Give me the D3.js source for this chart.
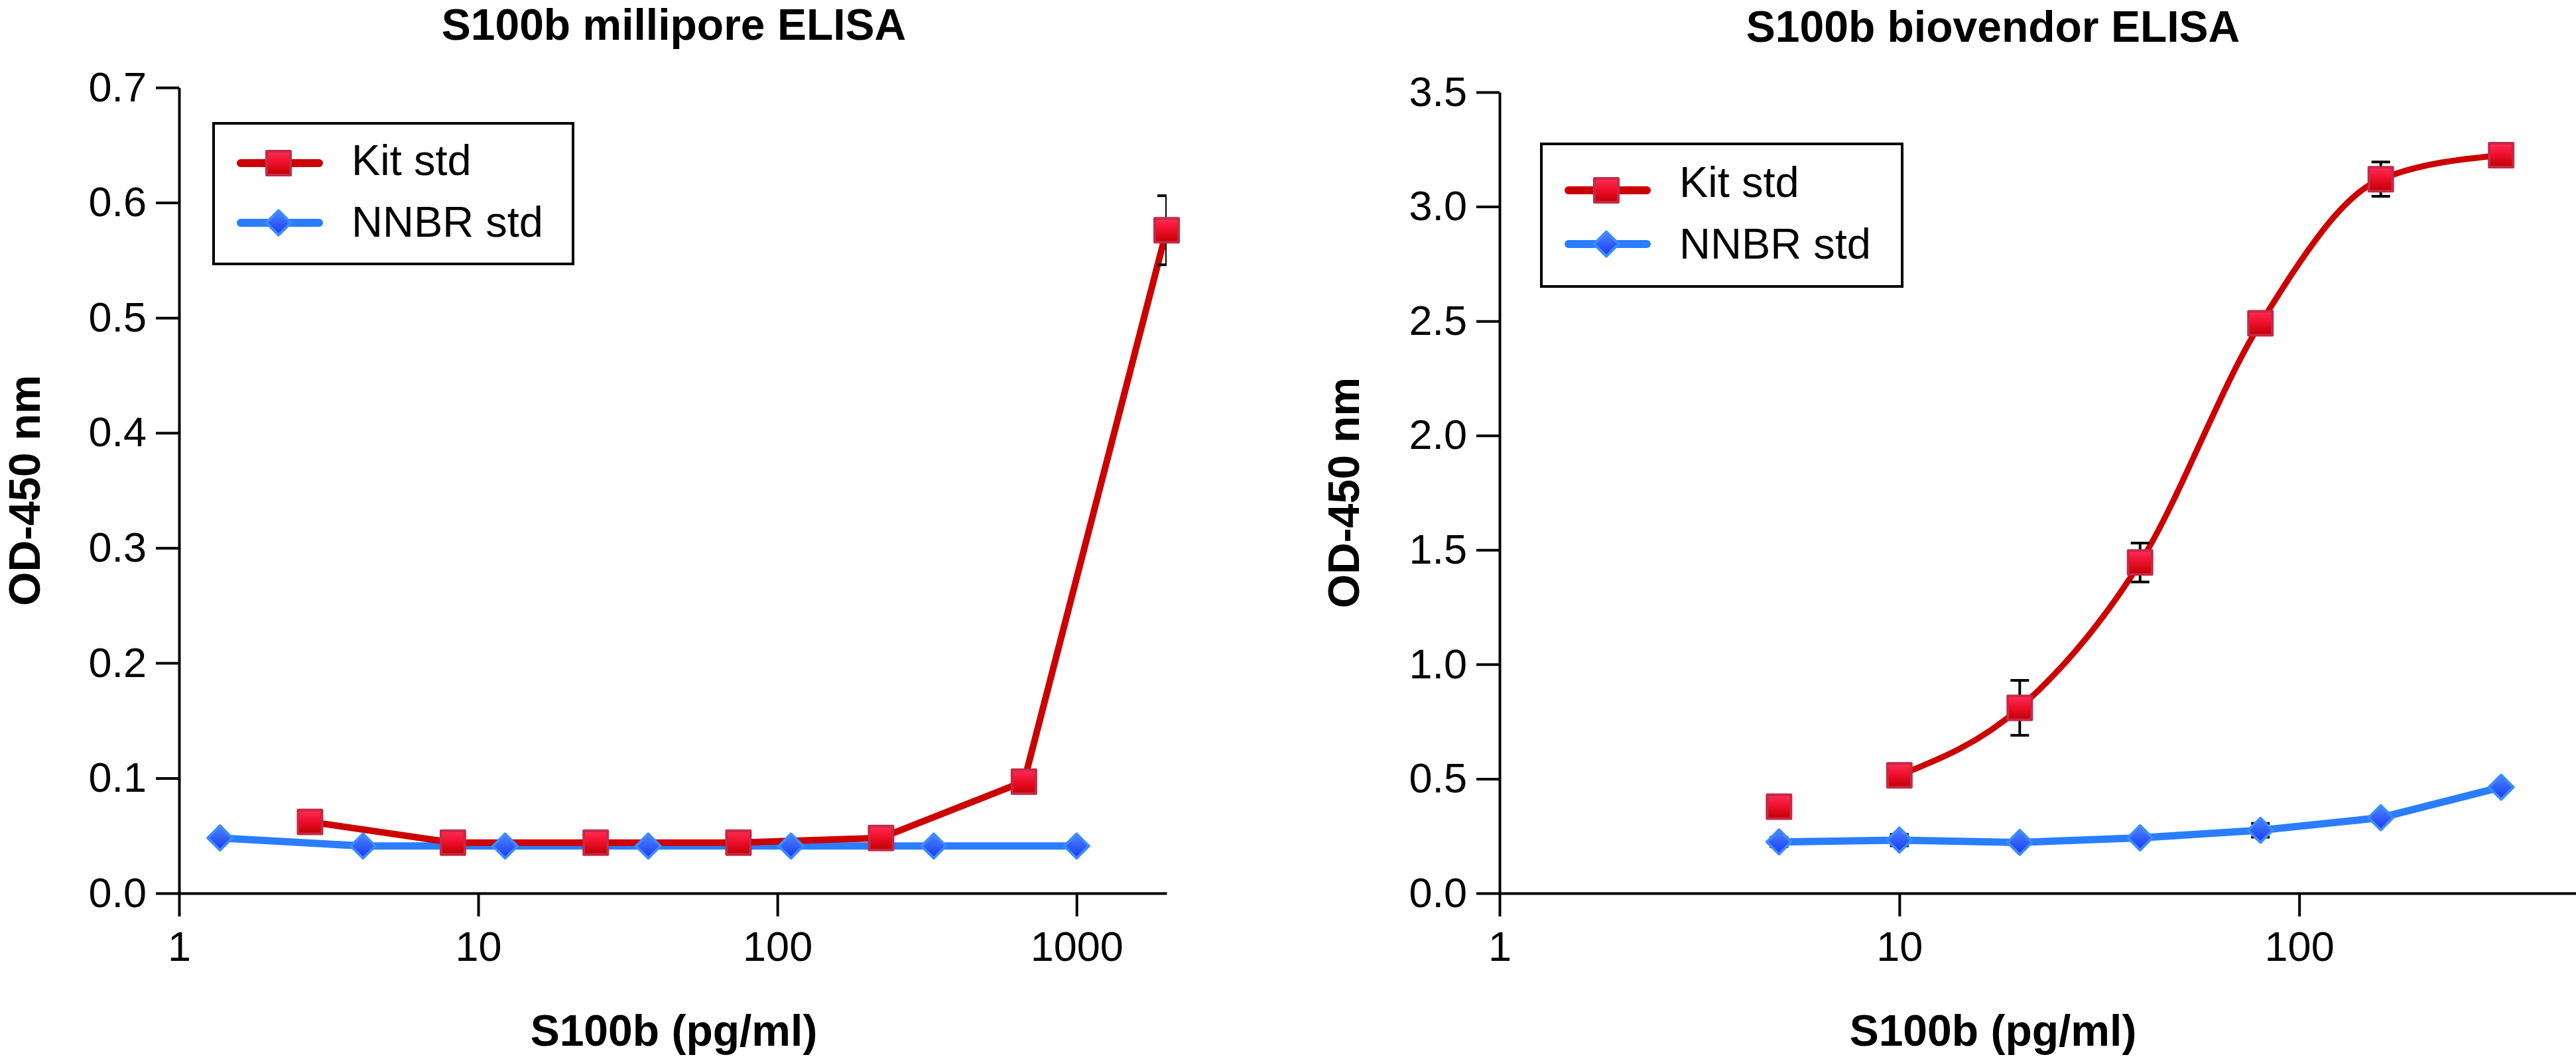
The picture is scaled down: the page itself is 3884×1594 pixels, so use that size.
<!DOCTYPE html>
<html>
<head>
<meta charset="utf-8">
<script src="https://cdn.jsdelivr.net/npm/d3@7"></script>
<style>
  body { margin: 0; background: #ffffff; }
  svg { display: block; }
  text { font-family: "Liberation Sans", Arial, Helvetica, sans-serif; fill: #000; }
</style>
</head>
<body>
<svg id="chart" width="3884" height="1594"></svg>
<script>
"use strict";

// ---- données ----
var milliporeKitX    = [2.74, 8.23, 24.7, 74.1, 222, 667, 2000];
var milliporeKitY    = [0.062, 0.044, 0.044, 0.044, 0.048, 0.097, 0.576];
var milliporeKitErr  = [0.003, 0.002, 0.002, 0.002, 0.003, 0.004, 0.030];
var milliporeNnbrX   = [1.37, 4.12, 12.3, 37.0, 111, 333, 1000];
var milliporeNnbrY   = [0.048, 0.041, 0.041, 0.041, 0.041, 0.041, 0.041];

var biovendorX       = [5, 10, 20, 40, 80, 160, 320];
var biovendorKitY    = [0.378, 0.515, 0.810, 1.445, 2.490, 3.120, 3.225];
var biovendorKitErr  = [0.020, 0.010, 0.120, 0.085, 0.045, 0.075, 0.010];
var biovendorNnbrY   = [0.224, 0.232, 0.222, 0.242, 0.275, 0.330, 0.463];
var biovendorNnbrErr = [0.020, 0.025, 0.010, 0.010, 0.030, 0.010, 0.010];

var titres      = ["S100b millipore ELISA", "S100b biovendor ELISA"];
var titreX      = "S100b (pg/ml)";
var titreY      = "OD-450 nm";
var legendes    = ["Kit std", "NNBR std"];
var ticksXGauche = [1, 10, 100, 1000];
var ticksXDroite = [1, 10, 100];
var ticksYGauche = [0, 0.1, 0.2, 0.3, 0.4, 0.5, 0.6, 0.7];
var ticksYDroite = [0, 0.5, 1.0, 1.5, 2.0, 2.5, 3.0, 3.5];

var rouge = "#cc0000";
var bleu  = "#2a7dff";

var svg = d3.select("#chart");

// dégradés des marqueurs
var defs = svg.append("defs");
var gradRouge = defs.append("linearGradient").attr("id", "gradRouge")
    .attr("x1", 0).attr("y1", 0).attr("x2", 0).attr("y2", 1);
gradRouge.append("stop").attr("offset", "0%").attr("stop-color", "#ff2d55");
gradRouge.append("stop").attr("offset", "45%").attr("stop-color", "#f0102e");
gradRouge.append("stop").attr("offset", "100%").attr("stop-color", "#c00000");
var gradBleu = defs.append("linearGradient").attr("id", "gradBleu")
    .attr("x1", 0).attr("y1", 0).attr("x2", 0).attr("y2", 1);
gradBleu.append("stop").attr("offset", "0%").attr("stop-color", "#4f86ff");
gradBleu.append("stop").attr("offset", "100%").attr("stop-color", "#1638f2");

// losange (symbole maison)
var symboleLosange = {
    draw: function(context, size) {
        var r = Math.sqrt(size) / 2;
        context.moveTo(0, -r);
        context.lineTo(r, 0);
        context.lineTo(0, r);
        context.lineTo(-r, 0);
        context.closePath();
    }
};
var carre   = d3.symbol().type(d3.symbolSquare).size(36 * 36);
var losange = d3.symbol().type(symboleLosange).size(37 * 37);

function dessinerMarqueur(g, type, x, y) {
    if (type === "kit") {
        g.append("path").attr("d", carre()).attr("transform", "translate(" + x + "," + y + ")")
            .attr("fill", "url(#gradRouge)").attr("stroke", "#c42a48").attr("stroke-width", 4)
            .attr("stroke-linejoin", "round");
    } else {
        g.append("path").attr("d", losange()).attr("transform", "translate(" + x + "," + y + ")")
            .attr("fill", "url(#gradBleu)").attr("stroke", "#3d8bff").attr("stroke-width", 4)
            .attr("stroke-linejoin", "round");
    }
}

var panneaux = [
    {
        id: "millipore",
        titre: titres[0], titreCx: 1016, titreY: 60, yLabelX: 60,
        xDomain: [1, 2000], xRange: [270, 1759],
        yDomain: [0, 0.7], yRange: [1347, 132],
        ticksX: ticksXGauche, ticksY: ticksYGauche, largeurRouge: 10,
        courbeKit: d3.curveLinear, debutCourbe: 0,
        kit: { x: milliporeKitX, y: milliporeKitY, err: milliporeKitErr },
        nnbr: { x: milliporeNnbrX, y: milliporeNnbrY, err: null },
        legende: { x: 322, y: 186, w: 542, h: 212, ligne1: 60, texte1: 78, ligne2: 150, texte2: 171 }
    },
    {
        id: "biovendor",
        titre: titres[1], titreCx: 3005, titreY: 63, yLabelX: 2049,
        xDomain: [1, 500], xRange: [2261, 3888],
        yDomain: [0, 3.5], yRange: [1347, 139],
        ticksX: ticksXDroite, ticksY: ticksYDroite, largeurRouge: 9,
        courbeKit: d3.curveMonotoneX, debutCourbe: 1,   // le point à 5 pg/ml n'est pas dans l'ajustement
        kit: { x: biovendorX, y: biovendorKitY, err: biovendorKitErr },
        nnbr: { x: biovendorX, y: biovendorNnbrY, err: biovendorNnbrErr },
        legende: { x: 2324, y: 217, w: 544, h: 215, ligne1: 70, texte1: 80, ligne2: 151, texte2: 173 }
    }
];

panneaux.forEach(function(p) {
    var g = svg.append("g").attr("class", "panneau-" + p.id);

    var x = d3.scaleLog().domain(p.xDomain).range(p.xRange);
    var y = d3.scaleLinear().domain(p.yDomain).range(p.yRange);

    // axes
    var axeY = d3.axisLeft(y).tickValues(p.ticksY).tickFormat(d3.format(".1f"))
        .tickSize(35).tickSizeOuter(0).tickPadding(14);
    var gy = g.append("g").attr("transform", "translate(" + p.xRange[0] + ",0)").call(axeY);

    var axeX = d3.axisBottom(x).tickValues(p.ticksX).tickFormat(d3.format("d"))
        .tickSize(35).tickSizeOuter(0).tickPadding(22);
    var gx = g.append("g").attr("transform", "translate(0," + p.yRange[0] + ")").call(axeX);

    [gx, gy].forEach(function(a) {
        a.select(".domain").attr("stroke", "#000").attr("stroke-width", 4);
        a.selectAll(".tick line").attr("stroke", "#000").attr("stroke-width", 4);
        a.selectAll(".tick text").style("font-size", "63px").attr("fill", "#000");
    });

    // titres
    g.append("text").attr("x", p.titreCx).attr("y", p.titreY).attr("text-anchor", "middle")
        .style("font-size", "66px").style("font-weight", "bold").text(p.titre);
    g.append("text").attr("x", p.titreCx).attr("y", 1577).attr("text-anchor", "middle")
        .style("font-size", "66px").style("font-weight", "bold").text(titreX);
    g.append("text").attr("transform", "translate(" + p.yLabelX + "," + ((p.yRange[0] + p.yRange[1]) / 2) + ") rotate(-90)")
        .attr("text-anchor", "middle").style("font-size", "66px").style("font-weight", "bold").text(titreY);

    // zone de tracé pour couper les barres d'erreur au bout de l'axe
    var idClip = "clip-" + p.id;
    defs.append("clipPath").attr("id", idClip).append("rect")
        .attr("x", p.xRange[0]).attr("y", 0)
        .attr("width", p.xRange[1] - p.xRange[0]).attr("height", p.yRange[0]);

    var ptsKit = p.kit.x.map(function(v, i) { return { x: v, y: p.kit.y[i], e: p.kit.err[i] }; });
    var ptsNnbr = p.nnbr.x.map(function(v, i) {
        return { x: v, y: p.nnbr.y[i], e: p.nnbr.err ? p.nnbr.err[i] : 0 };
    });

    // courbes
    var ligneKit = d3.line().x(function(d) { return x(d.x); }).y(function(d) { return y(d.y); }).curve(p.courbeKit);
    var ligneNnbr = d3.line().x(function(d) { return x(d.x); }).y(function(d) { return y(d.y); });

    g.append("path").datum(ptsNnbr).attr("d", ligneNnbr).attr("fill", "none")
        .attr("stroke", bleu).attr("stroke-width", 11).attr("stroke-linejoin", "round").attr("stroke-linecap", "round");
    g.append("path").datum(ptsKit.slice(p.debutCourbe)).attr("d", ligneKit).attr("fill", "none")
        .attr("stroke", rouge).attr("stroke-width", p.largeurRouge).attr("stroke-linejoin", "round").attr("stroke-linecap", "round");

    // barres d'erreur
    var gErr = g.append("g").attr("clip-path", "url(#" + idClip + ")")
        .attr("stroke", "#000").attr("stroke-width", 4).attr("fill", "none");
    ptsKit.concat(ptsNnbr).filter(function(d) { return d.e > 0; }).forEach(function(d) {
        var cx = x(d.x), y0 = y(d.y - d.e), y1 = y(d.y + d.e);
        gErr.append("line").attr("x1", cx).attr("x2", cx).attr("y1", y0).attr("y2", y1);
        gErr.append("line").attr("x1", cx - 14).attr("x2", cx + 14).attr("y1", y0).attr("y2", y0);
        gErr.append("line").attr("x1", cx - 14).attr("x2", cx + 14).attr("y1", y1).attr("y2", y1);
    });

    // marqueurs
    var gMarq = g.append("g");
    ptsNnbr.forEach(function(d) { dessinerMarqueur(gMarq, "nnbr", x(d.x), y(d.y)); });
    ptsKit.forEach(function(d) { dessinerMarqueur(gMarq, "kit", x(d.x), y(d.y)); });

    // légende
    var L = p.legende;
    var gL = g.append("g").attr("transform", "translate(" + L.x + "," + L.y + ")");
    gL.append("rect").attr("width", L.w).attr("height", L.h).attr("fill", "#fff")
        .attr("stroke", "#000").attr("stroke-width", 4);
    [[L.ligne1, L.texte1, rouge, "kit"], [L.ligne2, L.texte2, bleu, "nnbr"]].forEach(function(e, i) {
        gL.append("line").attr("x1", 41).attr("x2", 159).attr("y1", e[0]).attr("y2", e[0])
            .attr("stroke", e[2]).attr("stroke-width", 12).attr("stroke-linecap", "round");
        dessinerMarqueur(gL, e[3], 98, e[0]);
        gL.append("text").attr("x", 208).attr("y", e[1]).style("font-size", "65px").text(legendes[i]);
    });
});
</script>
</body>
</html>
